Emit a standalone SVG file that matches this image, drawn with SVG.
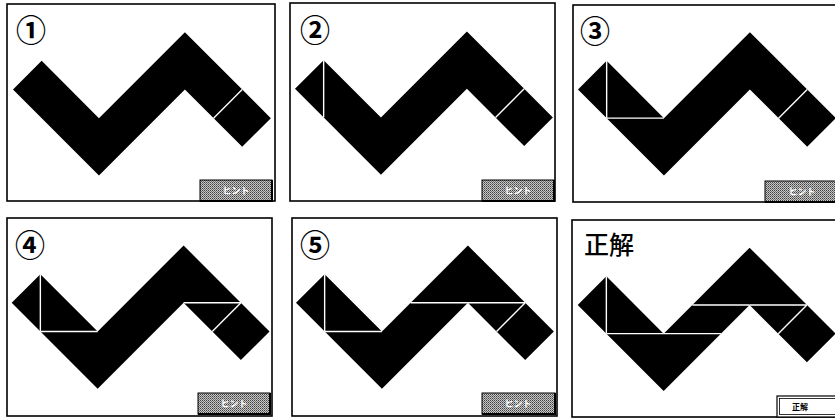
<svg xmlns="http://www.w3.org/2000/svg" xmlns:xlink="http://www.w3.org/1999/xlink" width="835" height="419" viewBox="0 0 835 419">
<style>
.frame{fill:#fff;stroke:#000;stroke-width:1.6}
.cut{stroke:#fff;stroke-width:1.4;fill:none}
.lbl{font-family:"Noto Sans CJK JP","DejaVu Sans",sans-serif;font-size:30px;font-weight:bold;fill:#000}
.lbl2{font-family:"Noto Sans CJK JP",sans-serif;font-size:25px;font-weight:500;fill:#000}
.btn{fill:url(#dither);stroke:#000;stroke-width:1}
.btnsh{fill:none;stroke:#000;stroke-width:2}
.btxt{font-family:"Noto Sans CJK JP",sans-serif;font-size:9px;font-weight:bold;fill:#fff;text-anchor:middle}
.btxt2{font-family:"Noto Sans CJK JP",sans-serif;font-size:8px;font-weight:bold;fill:#000;text-anchor:middle}
</style>
<defs>
<pattern id="dither" width="2" height="2" patternUnits="userSpaceOnUse">
<rect width="2" height="2" fill="#c8c8c8"/>
<rect width="1" height="1" fill="#404040"/>
<rect x="1" y="1" width="1" height="1" fill="#707070"/>
</pattern>
<path id="shape" d="M0,0 L28.65,-28.65 L85.95,28.65 L171.9,-57.3 L257.85,28.65 L229.2,57.3 L171.9,0 L85.95,85.95 Z" fill="#000"/>
<line id="cA" class="cut" x1="200.55" y1="28.65" x2="229.2" y2="0"/>
<line id="cB" class="cut" x1="28.65" y1="-28.65" x2="28.65" y2="28.65"/>
<line id="cC" class="cut" x1="28.65" y1="28.65" x2="85.95" y2="28.65"/>
<line id="cD" class="cut" x1="171.9" y1="0" x2="229.2" y2="0"/>
<line id="cE" class="cut" x1="114.6" y1="0" x2="171.9" y2="0"/>
<line id="cF" class="cut" x1="85.95" y1="28.65" x2="143.25" y2="28.65"/>
</defs>
<rect width="835" height="419" fill="#fff"/>

<g id="panel1">
<rect class="frame" x="7" y="4" width="268" height="197"/>
<text class="lbl" x="16" y="41">①</text>
<g transform="translate(13,89.5)"><use href="#shape"/><use href="#cA"/></g>
<g id="btn1"><rect class="btn" x="200" y="180" width="72" height="21"/><path class="btnsh" d="M272,180 V201 H200"/><text class="btxt" x="236" y="194">ヒント</text></g>
</g>

<g id="panel2">
<rect class="frame" x="290" y="3" width="265" height="198"/>
<text class="lbl" x="300" y="41">②</text>
<g transform="translate(295,88.8)"><use href="#shape"/><use href="#cA"/><use href="#cB"/></g>
<g id="btn2"><rect class="btn" x="482" y="180" width="72" height="21"/><path class="btnsh" d="M554,180 V201 H482"/><text class="btxt" x="518" y="194">ヒント</text></g>
</g>

<g id="panel3">
<rect class="frame" x="573" y="5" width="270" height="197"/>
<text class="lbl" x="580" y="42">③</text>
<g transform="translate(578,89.5)"><use href="#shape"/><use href="#cA"/><use href="#cB"/><use href="#cC"/></g>
<g id="btn3"><rect class="btn" x="765" y="181" width="75" height="21"/><path class="btnsh" d="M840,202 H765"/><text class="btxt" x="802" y="195">ヒント</text></g>
</g>

<g id="panel4">
<rect class="frame" x="7" y="218" width="265" height="198"/>
<text class="lbl" x="15" y="256">④</text>
<g transform="translate(11.7,302.8)"><use href="#shape"/><use href="#cA"/><use href="#cB"/><use href="#cC"/><use href="#cD"/></g>
<g id="btn4"><rect class="btn" x="198" y="393" width="72" height="21"/><path class="btnsh" d="M270,393 V414 H198"/><text class="btxt" x="234" y="407">ヒント</text></g>
</g>

<g id="panel5">
<rect class="frame" x="292" y="218" width="265" height="198"/>
<text class="lbl" x="300" y="256">⑤</text>
<g transform="translate(296,302.8)"><use href="#shape"/><use href="#cA"/><use href="#cB"/><use href="#cC"/><use href="#cD"/><use href="#cE"/></g>
<g id="btn5"><rect class="btn" x="482" y="393" width="73" height="21"/><path class="btnsh" d="M555,393 V414 H482"/><text class="btxt" x="518" y="407">ヒント</text></g>
</g>

<g id="panel6">
<rect class="frame" x="572" y="220" width="270" height="197"/>
<text class="lbl2" x="584" y="254">正解</text>
<g transform="translate(577.7,305)"><use href="#shape"/><use href="#cA"/><use href="#cB"/><use href="#cC"/><use href="#cD"/><use href="#cE"/><use href="#cF"/></g>
<g id="btn6"><rect x="777" y="396" width="65" height="21" fill="#fff" stroke="#000" stroke-width="1.2"/><rect x="779.5" y="398.5" width="60" height="16" fill="none" stroke="#000" stroke-width="0.8"/><text class="btxt2" x="800" y="410">正解</text></g>
</g>
</svg>
